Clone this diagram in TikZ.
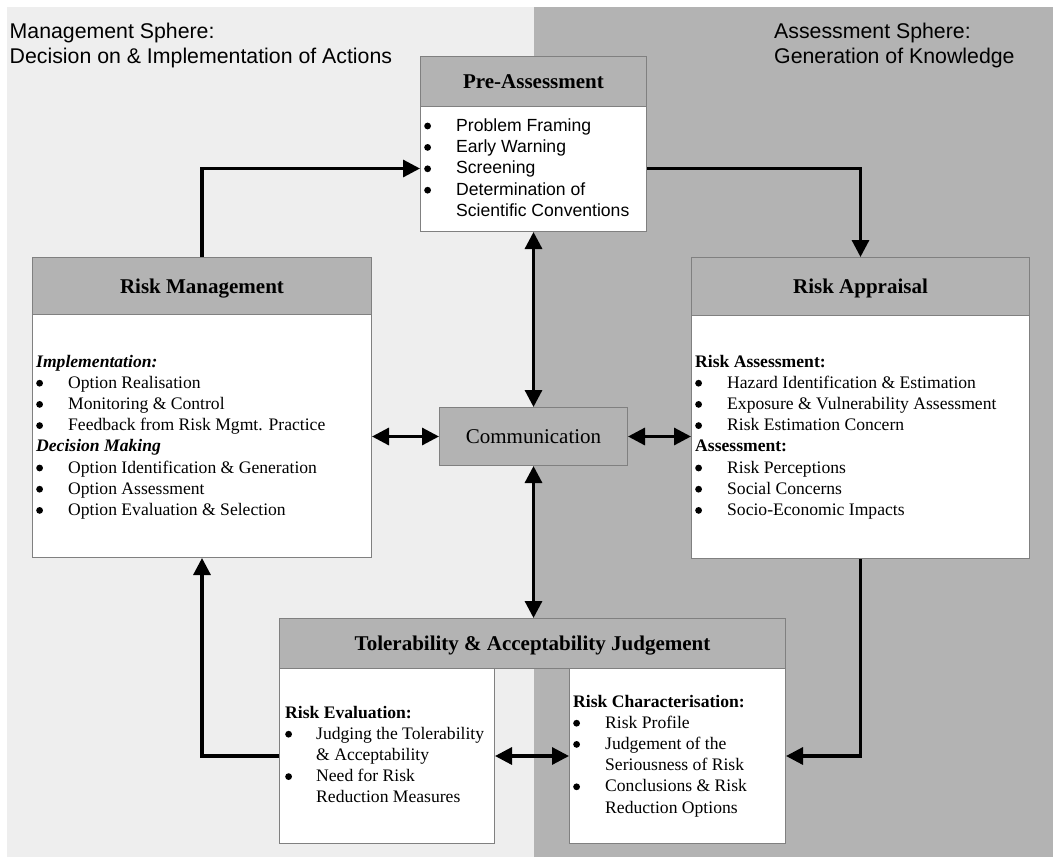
\documentclass[tikz,border=0pt]{standalone}
\usepackage{fontspec}
\setmainfont{Liberation Serif}
\newfontfamily\arialfont{Liberation Sans}
\usetikzlibrary{arrows.meta,calc}

\definecolor{mgmtbg}{HTML}{EEEEEE}
\definecolor{assessbg}{HTML}{B3B3B3}
\definecolor{headfill}{HTML}{B3B3B3}
\definecolor{edge}{HTML}{808080}

% bullet lists inside the boxes: a round dot followed by the item text
\newlength\bulw
\newcommand{\bl}{\makebox[\bulw][l]{\tikz[baseline=0pt,x=1pt,y=1pt]\fill (3.8,5) circle[radius=3.4pt];}}
\newcommand{\cn}{\hspace*{\bulw}}
\newcommand{\bodyfont}{\fontsize{17.6}{21.2}\selectfont}
\newcommand{\titlefont}{\bfseries\fontsize{21}{25}\selectfont}
\newcommand{\textblock}[3]{\parbox[t]{#1}{\raggedright\setlength\bulw{#2}#3}}

\tikzset{
  panel/.style={draw=edge, line width=1pt, fill=white, inner sep=0pt, anchor=north west},
  head/.style={draw=edge, line width=1pt, fill=headfill, inner sep=0pt, anchor=north west,
               text height=14pt, text depth=0pt, font=\titlefont},
  body/.style={anchor=base west, inner sep=0pt},
  conn/.style={line width=3.2pt, -{Triangle[length=17pt,width=17pt]}},
  dconn/.style={line width=3.2pt, {Triangle[length=17pt,width=17pt]}-{Triangle[length=17pt,width=17pt]}},
}

\begin{document}
\begin{tikzpicture}[x=1pt, y=-1pt]
\useasboundingbox (0,0) rectangle (1053,857);

% the two spheres
\fill[mgmtbg] (7,7) rectangle (534,857);
\fill[assessbg] (534,7) rectangle (1053,857);

\node[body] (mgmtlabel) at (9.5,38)
  {\parbox[t]{420pt}{\raggedright\arialfont\fontsize{21.3}{25}\selectfont
   Management Sphere:\\Decision on \& Implementation of Actions}};
\node[body] (assesslabel) at (774,38)
  {\parbox[t]{270pt}{\raggedright\arialfont\fontsize{21.3}{25}\selectfont
   Assessment Sphere:\\Generation of Knowledge}};

% Pre-Assessment
\node[panel, minimum width=226pt, minimum height=175pt] (pre) at (420,56) {};
\node[head, minimum width=226pt, minimum height=50pt] (prehead) at (420,56) {Pre-Assessment};
\node[body] (pretext) at (424,131)
  {\textblock{215pt}{32pt}{\arialfont\fontsize{17.6}{21.4}\selectfont
   \bl Problem Framing\\
   \bl Early Warning\\
   \bl Screening\\
   \bl Determination of\\
   \cn Scientific Conventions}};

% Risk Management
\node[panel, minimum width=339pt, minimum height=300pt] (rm) at (32,257) {};
\node[head, minimum width=339pt, minimum height=57pt] (rmhead) at (32,257) {Risk Management};
\node[body] (rmtext) at (36,367)
  {\textblock{320pt}{32pt}{\bodyfont
   \textbf{\textit{Implementation:}}\\
   \bl Option Realisation\\
   \bl Monitoring \& Control\\
   \bl Feedback from Risk Mgmt. Practice\\
   \textbf{\textit{Decision Making}}\\
   \bl Option Identification \& Generation\\
   \bl Option Assessment\\
   \bl Option Evaluation \& Selection}};

% Risk Appraisal
\node[panel, minimum width=338pt, minimum height=301pt] (ra) at (691,257) {};
\node[head, minimum width=338pt, minimum height=58pt] (rahead) at (691,257) {Risk Appraisal};
\node[body] (ratext) at (695,367)
  {\textblock{320pt}{32pt}{\bodyfont
   \textbf{Risk Assessment:}\\
   \bl Hazard Identification \& Estimation\\
   \bl Exposure \& Vulnerability Assessment\\
   \bl Risk Estimation Concern\\
   \textbf{Assessment:}\\
   \bl Risk Perceptions\\
   \bl Social Concerns\\
   \bl Socio-Economic Impacts}};

% Communication
\node[head, font=\fontsize{21}{25}\selectfont, minimum width=188pt, minimum height=58pt]
  (comm) at (439,407) {Communication};

% Tolerability & Acceptability Judgement
\node[panel, minimum width=215pt, minimum height=175pt] (evalbox) at (279,668) {};
\node[panel, minimum width=216pt, minimum height=175pt] (charbox) at (569,668) {};
\node[head, minimum width=506pt, minimum height=50pt] (tolhead) at (279,618)
  {Tolerability \& Acceptability Judgement};
\node[body] (evaltext) at (285,718)
  {\textblock{205pt}{31pt}{\bodyfont
   \textbf{Risk Evaluation:}\\
   \bl Judging the Tolerability\\
   \cn \& Acceptability\\
   \bl Need for Risk\\
   \cn Reduction Measures}};
\node[body] (chartext) at (573,707)
  {\textblock{210pt}{32pt}{\bodyfont
   \textbf{Risk Characterisation:}\\
   \bl Risk Profile\\
   \bl Judgement of the\\
   \cn Seriousness of Risk\\
   \bl Conclusions \& Risk\\
   \cn Reduction Options}};

% cycle of the process
\draw[conn] (rm.north) |- ($(pre.west)+(0,24.5)$);
\draw[conn] ($(pre.east)+(0,24.5)$) -| (ra.north);
\draw[conn] (ra.south) |- (charbox.east);
\draw[conn] (evalbox.west) -| (rm.south);

% communication links
\draw[dconn] (pre.south) -- (comm.north);
\draw[dconn] (comm.south) -- (comm.south |- tolhead.north);
\draw[dconn] (comm.west -| rm.east) -- (comm.west);
\draw[dconn] (comm.east) -- (comm.east -| ra.west);
\draw[dconn] (evalbox.east) -- (charbox.west);
\end{tikzpicture}
\end{document}
